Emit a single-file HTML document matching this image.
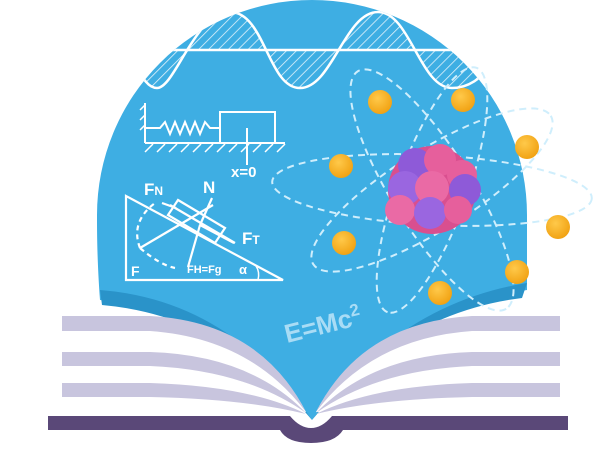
<!DOCTYPE html>
<html><head><meta charset="utf-8"><style>
html,body{margin:0;padding:0;background:#fff;}
svg{display:block;}
text{font-family:"Liberation Sans",sans-serif;font-weight:bold;fill:#fff;}
</style></head><body>
<svg width="610" height="456" viewBox="0 0 610 456">
<defs>
<pattern id="hatch" width="7" height="7" patternUnits="userSpaceOnUse" patternTransform="rotate(45)">
<line x1="0" y1="0" x2="0" y2="7" stroke="#fff" stroke-width="1.6" opacity="0.85"/>
</pattern>
<clipPath id="blueclip"><path d="M100,300 C97,260 97,230 97,215 A215,215 0 0 1 527,215 C527,240 527,270 527,290 Q400,310 312,420 Q230,310 100,300 Z"/></clipPath>
<radialGradient id="el" cx="0.4" cy="0.35" r="0.7"><stop offset="0" stop-color="#ffc94a"/><stop offset="1" stop-color="#f0a010"/></radialGradient>
</defs>
<g>
<path d="M100,300 C97,260 97,230 97,215 A215,215 0 0 1 527,215 C527,240 527,270 527,290 Q400,310 312,420 Q230,310 100,300 Z" fill="#3eaee3"/>
<path d="M527,283 Q400,303 312,420 Q400,313 522,298 Z" fill="#2a93c9"/>
<path d="M100,290 Q230,300 312,420 Q225,316 102,305 Z" fill="#2a93c9"/>
</g>
<g clip-path="url(#blueclip)">
<path d="M100,50 L120,50 C135,50 140,88 157,88 C175,88 195,12 230,12 C265,12 268,88 300,88 C332,88 345,12 378,12 C410,12 420,88 452,88 C485,88 495,50 520,50 Z" fill="url(#hatch)"/>
<path d="M100,50 L120,50 C135,50 140,88 157,88 C175,88 195,12 230,12 C265,12 268,88 300,88 C332,88 345,12 378,12 C410,12 420,88 452,88 C485,88 495,50 520,50" fill="none" stroke="#fff" stroke-width="2.5"/>
<line x1="170" y1="50" x2="470" y2="50" stroke="#fff" stroke-width="2.5"/>
</g>
<g stroke="#fff" fill="none" stroke-width="2">
<line x1="145" y1="103" x2="145" y2="143"/>
<line x1="145" y1="143" x2="285" y2="143"/>
<path d="M145,128 L160,128 L165,122 L170,134 L175,122 L180,134 L185,122 L190,134 L195,122 L200,134 L205,122 L210,128 L220,128"/>
<rect x="220" y="112" width="55" height="31"/>
<line x1="247" y1="128" x2="247" y2="165"/>
<path d="M140,110 l5,-5 M140,120 l5,-5 M140,130 l5,-5 M145,152 l8,-8 M157,152 l8,-8 M169,152 l8,-8 M181,152 l8,-8 M193,152 l8,-8 M205,152 l8,-8 M217,152 l8,-8 M229,152 l8,-8 M241,152 l8,-8 M253,152 l8,-8 M265,152 l8,-8 M277,152 l8,-8" stroke-width="1.5"/>
</g>
<text x="231" y="177" font-size="15">x=0</text>
<g stroke="#fff" fill="none" stroke-width="2.2">
<path d="M126,196 L126,280 L283,280 Z"/>
<path d="M178,200 L225,228 L215,243 L168,215 Z"/>
<line x1="140" y1="248" x2="213" y2="205"/>
<path d="M170,205 L235,243"/>
<line x1="162" y1="203" x2="176" y2="208"/>
<line x1="200" y1="225" x2="188" y2="267"/>
<line x1="200" y1="225" x2="212" y2="198"/>
<line x1="200" y1="225" x2="234" y2="243"/>
<path d="M140,248 Q130,222 155,203 M140,248 Q160,265 175,268" stroke-dasharray="5,4"/>
<path d="M258,280 Q260,272 256,266" stroke-width="1.5"/>
</g>
<text x="144" y="195" font-size="17">F<tspan font-size="12">N</tspan></text>
<text x="203" y="193" font-size="17">N</text>
<text x="242" y="244" font-size="17">F<tspan font-size="12">T</tspan></text>
<text x="131" y="276" font-size="14">F</text>
<text x="187" y="273" font-size="11">FH=Fg</text>
<text x="239" y="274" font-size="13" font-weight="normal">α</text>
<g fill="none" stroke="#cfeefc" stroke-width="2" stroke-dasharray="7,5">
<ellipse cx="432" cy="190" rx="160" ry="35" transform="rotate(3 432 190)"/>
<ellipse cx="432" cy="190" rx="140" ry="40" transform="rotate(-32 432 190)"/>
<ellipse cx="432" cy="190" rx="140" ry="40" transform="rotate(58 432 190)"/>
<ellipse cx="432" cy="190" rx="130" ry="35" transform="rotate(110 432 190)"/>
</g>
<g>
<circle cx="432" cy="190" r="44" fill="#d94f8f"/>
<circle cx="415" cy="165" r="17" fill="#8e5ad8"/>
<circle cx="440" cy="160" r="16" fill="#e65f9c"/>
<circle cx="462" cy="175" r="15" fill="#e65f9c"/>
<circle cx="405" cy="188" r="17" fill="#9a66e0"/>
<circle cx="432" cy="188" r="17" fill="#ea6aa5"/>
<circle cx="465" cy="190" r="16" fill="#8e5ad8"/>
<circle cx="400" cy="210" r="15" fill="#ea6aa5"/>
<circle cx="430" cy="213" r="16" fill="#9a66e0"/>
<circle cx="458" cy="210" r="14" fill="#e65f9c"/>
</g>
<g fill="url(#el)">
<circle cx="380" cy="102" r="12"/><circle cx="463" cy="100" r="12"/>
<circle cx="527" cy="147" r="12"/><circle cx="341" cy="166" r="12"/>
<circle cx="558" cy="227" r="12"/><circle cx="344" cy="243" r="12"/>
<circle cx="517" cy="272" r="12"/><circle cx="440" cy="293" r="12"/>
</g>
<text x="287" y="343" font-size="26" style="fill:#a9dcf5" transform="rotate(-14 287 343)">E=Mc<tspan font-size="17" dy="-10">2</tspan></text>
<g>
<path d="M62,318 L150,318 Q260,324 306,412 L316,412 Q362,324 472,318 L560,318 L560,412 L62,412 Z" fill="#fff"/>
<g fill="#c8c5de">
<path d="M62,316 L150,316 Q260,322 306,412 Q250,338 150,331 L62,331 Z"/>
<path d="M62,352 L150,352 Q250,355 306,413 Q245,370 150,366 L62,366 Z"/>
<path d="M62,383 L150,383 Q250,386 306,414 Q245,399 150,397 L62,397 Z"/>
</g>
<g fill="#c8c5de" transform="translate(622,0) scale(-1,1)">
<path d="M62,316 L150,316 Q260,322 306,412 Q250,338 150,331 L62,331 Z"/>
<path d="M62,352 L150,352 Q250,355 306,413 Q245,370 150,366 L62,366 Z"/>
<path d="M62,383 L150,383 Q250,386 306,414 Q245,399 150,397 L62,397 Z"/>
</g>
</g>
<g fill="#5a4878">
<path d="M48,416 L290,416 Q300,428 311,428 Q322,428 332,416 L568,416 L568,430 L343,430 Q335,443 311,443 Q287,443 280,430 L48,430 Z"/>
</g>
</svg>
</body></html>
